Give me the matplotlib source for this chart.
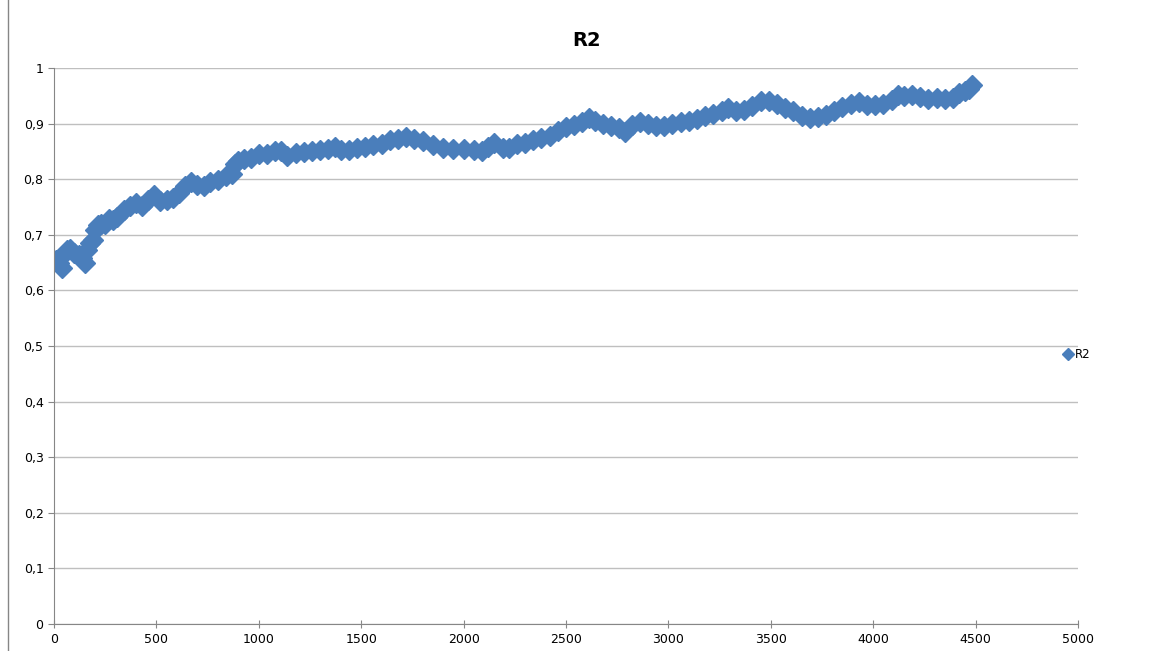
import matplotlib.pyplot as plt
from matplotlib.lines import Line2D

# values (rows of 10, x and y aligned)
x_vals = [10, 25, 40, 55, 65, 80, 100, 120, 135, 150,
          160, 175, 190, 200, 215, 230, 250, 270, 290, 310,
          340, 370, 400, 430, 460, 490, 520, 550, 580, 610,
          640, 670, 700, 730, 760, 800, 840, 870, 885, 900,
          930, 960, 1000, 1040, 1080, 1110, 1140, 1180, 1220, 1260,
          1300, 1340, 1370, 1400, 1440, 1480, 1520, 1560, 1600, 1640,
          1680, 1720, 1760, 1800, 1850, 1900, 1950, 2000, 2050, 2090,
          2120, 2150, 2190, 2220, 2260, 2300, 2340, 2380, 2420, 2460,
          2500, 2540, 2580, 2610, 2640, 2680, 2720, 2760, 2790, 2820,
          2860, 2900, 2940, 2980, 3020, 3060, 3100, 3140, 3180, 3220,
          3260, 3290, 3330, 3370, 3410, 3450, 3490, 3530, 3570, 3610,
          3650, 3690, 3730, 3770, 3810, 3850, 3890, 3930, 3970, 4010,
          4050, 4090, 4120, 4150, 4190, 4230, 4270, 4310, 4350, 4390,
          4420, 4450, 4470, 4480]
r2_vals = [0.655, 0.650, 0.640, 0.668, 0.672, 0.674, 0.668, 0.663, 0.658, 0.650,
           0.672, 0.685, 0.690, 0.708, 0.718, 0.720, 0.720, 0.728, 0.727, 0.732,
           0.745, 0.752, 0.758, 0.752, 0.762, 0.772, 0.760, 0.763, 0.767, 0.775,
           0.788, 0.795, 0.790, 0.788, 0.795, 0.798, 0.805, 0.810, 0.828, 0.833,
           0.837, 0.838, 0.845, 0.846, 0.850, 0.850, 0.842, 0.847, 0.849, 0.850,
           0.852, 0.855, 0.858, 0.852, 0.853, 0.856, 0.858, 0.861, 0.864, 0.870,
           0.873, 0.876, 0.873, 0.868, 0.862, 0.857, 0.855, 0.854, 0.853, 0.850,
           0.858, 0.865, 0.856, 0.857, 0.864, 0.866, 0.870, 0.874, 0.878, 0.886,
           0.893, 0.898, 0.902, 0.910, 0.905, 0.900, 0.895, 0.892, 0.885, 0.898,
           0.902, 0.900, 0.895, 0.896, 0.900, 0.903, 0.904, 0.908, 0.914, 0.918,
           0.922, 0.928, 0.923, 0.925, 0.932, 0.940, 0.940, 0.935, 0.928, 0.922,
           0.913, 0.910, 0.912, 0.916, 0.922, 0.930, 0.936, 0.938, 0.933, 0.934,
           0.936, 0.942, 0.951, 0.950, 0.951, 0.947, 0.945, 0.946, 0.945, 0.946,
           0.955, 0.958, 0.962, 0.970]

x_ticks = [0, 500, 1000, 1500, 2000, 2500, 3000, 3500, 4000, 4500, 5000]
y_ticks = [0, 0.1, 0.2, 0.3, 0.4, 0.5, 0.6, 0.7, 0.8, 0.9, 1.0]
y_labels = ['0', '0,1', '0,2', '0,3', '0,4', '0,5', '0,6', '0,7', '0,8', '0,9', '1']

blue = '#4A7EBB'
plt.rcParams['font.family'] = ['DejaVu Sans']

fig = plt.figure(figsize=(11.51, 6.51), dpi=100)
ax = fig.add_axes([54 / 1151, 27 / 651, 1024 / 1151, 556 / 651])

ax.plot(x_vals, r2_vals, linestyle='none', marker='D', markersize=10.5,
        color=blue, markeredgecolor=blue, label='R2')

ax.set_xlim(0, 5000)
ax.set_ylim(0, 1)
ax.set_xticks(x_ticks)
ax.set_yticks(y_ticks)
ax.set_yticklabels(y_labels)
ax.tick_params(axis='both', labelsize=9, colors='#868686', labelcolor='black',
               length=4, width=0.8)
ax.tick_params(axis='x', direction='inout', length=6)
ax.grid(axis='y', color='#BFBFBF', linewidth=1)
ax.set_axisbelow(True)
for s in ['top', 'right']:
    ax.spines[s].set_visible(False)
for s in ['left', 'bottom']:
    ax.spines[s].set_color('#868686')

fig.text(587 / 1151, 1 - 40 / 651, 'R2', ha='center', va='center',
         fontsize=14, fontweight='bold')

fig.legend(loc='center left', bbox_to_anchor=(1050 / 1151, 1 - 355 / 651),
           frameon=False, fontsize=8.5, handletextpad=0.0, markerscale=0.55,
           handlelength=1.2)

fig.add_artist(Line2D([8 / 1151, 8 / 1151], [0, 1], color='#868686', linewidth=1))

fig.savefig('out.png', dpi=100)
